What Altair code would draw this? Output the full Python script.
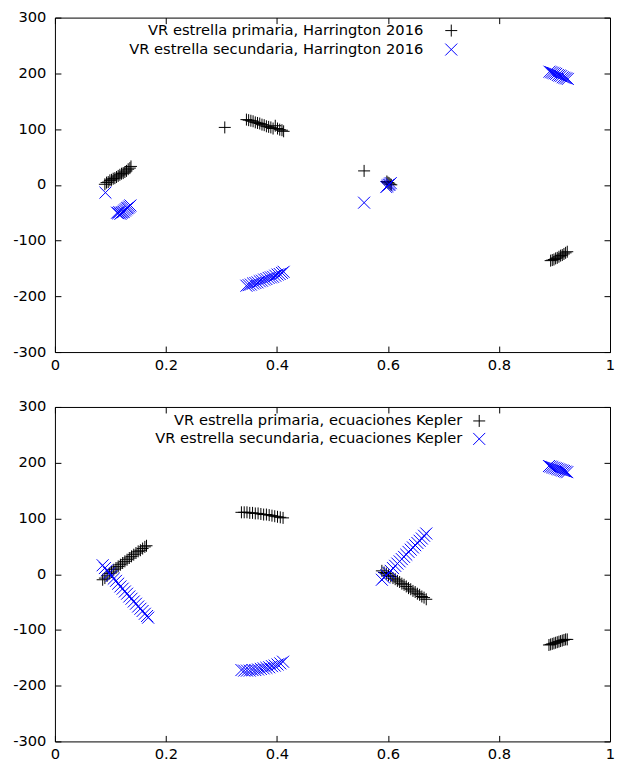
import altair as alt
import pandas as pd

# ---------------- data ----------------
# Top panel: Harrington 2016
top_prim_phase = [0.090, 0.093, 0.096, 0.099, 0.102, 0.105, 0.108, 0.111, 0.114, 0.117, 0.120, 0.123, 0.126, 0.129, 0.132, 0.135, 0.137,
                  0.306,
                  0.345, 0.349, 0.353, 0.357, 0.361, 0.365, 0.369, 0.373, 0.377, 0.381, 0.385, 0.389, 0.393, 0.397, 0.401, 0.405, 0.409, 0.412,
                  0.557,
                  0.598, 0.600, 0.602, 0.604, 0.606,
                  0.893, 0.896, 0.899, 0.902, 0.905, 0.908, 0.911, 0.914, 0.917, 0.920, 0.923]
top_prim_rv = [1, 4, 5, 8, 9, 11, 12, 14, 16, 18, 20, 21, 23, 25, 28, 30, 33,
               103,
               117, 116, 115, 114, 112, 111, 110, 108, 107, 105, 104, 103, 101, 106, 101, 99, 98, 96,
               25,
               6, 4, 3, 1, 0,
               -136, -135, -134, -132, -131, -129, -127, -126, -124, -122, -120]

top_sec_phase = [0.091,
                 0.112, 0.114, 0.116, 0.118, 0.120, 0.122, 0.124, 0.126, 0.128, 0.130, 0.132, 0.134, 0.136,
                 0.345, 0.349, 0.353, 0.357, 0.361, 0.365, 0.369, 0.373, 0.377, 0.381, 0.385, 0.389, 0.393, 0.397, 0.401, 0.405, 0.409, 0.412,
                 0.557,
                 0.597, 0.599, 0.601, 0.603, 0.605,
                 0.891, 0.894, 0.897, 0.900, 0.903, 0.906, 0.909, 0.912, 0.915, 0.918, 0.921, 0.924]
top_sec_rv = [-14,
              -50, -51, -49, -52, -50, -49, -48, -46, -44, -42, -41, -39, -37,
              -181, -180, -179, -177, -176, -175, -173, -172, -170, -169, -167, -166, -165, -163, -161, -160, -158, -156,
              -32,
              -4, -2, 0, 1, 3,
              203, 202, 201, 200, 199, 197, 196, 195, 193, 192, 191, 190]

# Bottom panel: Kepler equations
bot_prim_phase = [0.086, 0.090, 0.094, 0.098, 0.102, 0.106, 0.110, 0.114, 0.118, 0.122, 0.126, 0.130, 0.134, 0.138, 0.142, 0.146, 0.150, 0.154, 0.158, 0.162, 0.165,
                  0.336, 0.341, 0.346, 0.351, 0.356, 0.361, 0.366, 0.371, 0.376, 0.381, 0.386, 0.391, 0.396, 0.401, 0.406, 0.411,
                  0.589, 0.593, 0.597, 0.601, 0.605, 0.609, 0.613, 0.617, 0.621, 0.625, 0.629, 0.633, 0.637, 0.641, 0.645, 0.649, 0.653, 0.657, 0.661, 0.665, 0.669,
                  0.890, 0.893, 0.896, 0.899, 0.902, 0.905, 0.908, 0.911, 0.914, 0.917, 0.920, 0.923]
bot_prim_rv = [-10, -7, -3, 1, 4, 8, 11, 14, 17, 20, 23, 26, 29, 32, 35, 38, 41, 43, 46, 49, 51,
               111, 111, 111, 110, 110, 109, 109, 108, 107, 107, 106, 105, 104, 103, 102, 101,
               6, 3, 1, -2, -4, -7, -9, -12, -14, -17, -19, -22, -25, -27, -30, -32, -35, -37, -40, -42, -45,
               -127, -126, -125, -124, -123, -122, -121, -120, -119, -118, -117, -117]

bot_sec_phase = [0.086, 0.090, 0.094, 0.098, 0.102, 0.106, 0.110, 0.114, 0.118, 0.122, 0.126, 0.130, 0.134, 0.138, 0.142, 0.146, 0.150, 0.154, 0.158, 0.162, 0.166, 0.168,
                 0.336, 0.341, 0.346, 0.351, 0.356, 0.361, 0.366, 0.371, 0.376, 0.381, 0.386, 0.391, 0.396, 0.401, 0.406, 0.411,
                 0.589, 0.593, 0.597, 0.601, 0.605, 0.609, 0.613, 0.617, 0.621, 0.625, 0.629, 0.633, 0.637, 0.641, 0.645, 0.649, 0.653, 0.657, 0.661, 0.665, 0.669,
                 0.890, 0.893, 0.896, 0.899, 0.902, 0.905, 0.908, 0.911, 0.914, 0.917, 0.920, 0.923]
bot_sec_rv = [16, 11, 7, 2, -3, -8, -12, -17, -22, -26, -31, -35, -40, -44, -49, -53, -58, -62, -66, -71, -75, -78,
              -172, -173, -173, -173, -172, -172, -171, -170, -169, -168, -167, -165, -164, -162, -160, -157,
              -10, -6, -2, 2, 6, 11, 15, 19, 23, 27, 31, 35, 40, 44, 48, 52, 56, 60, 64, 69, 73,
              194, 193, 192, 191, 190, 189, 188, 187, 186, 185, 184, 183]

x_ticks = [0, 0.2, 0.4, 0.6, 0.8, 1]
y_ticks = [-300, -200, -100, 0, 100, 200, 300]

top_labels = ["VR estrella primaria, Harrington 2016", "VR estrella secundaria, Harrington 2016"]
bot_labels = ["VR estrella primaria, ecuaciones Kepler", "VR estrella secundaria, ecuaciones Kepler"]

# ---------------- style ----------------
PLUS = "M-1,0L1,0M0,-1L0,1"
CROSS = "M-1,-1L1,1M-1,1L1,-1"
BLUE = "#0000ff"
FONT = "DejaVu Sans"
FS = 14.7
W, H = 556, 335
TICK = 6
SYM = 144

xscale = alt.Scale(domain=[0, 1], nice=False, zero=False)
yscale = alt.Scale(domain=[-300, 300], nice=False, zero=False)


def lab_axis(orient, values, pad):
    return alt.Axis(orient=orient, values=values, labelExpr="'' + datum.value", ticks=False,
                    domain=False, grid=False, title=None, labelFont=FONT, labelFontSize=FS,
                    labelColor="black", labelPadding=pad, labelFlush=False, labelOverlap=False)


def tick_axis(orient, values):
    return alt.Axis(orient=orient, values=values, labels=False, domain=False, grid=False, title=None,
                    ticks=True, tickSize=TICK, offset=-TICK, tickColor="black", tickWidth=1)


def panel(pp, pr, sp, sr, labels, text_x, sym_x, row_y):
    dp = pd.DataFrame({"phase": pp, "rv": pr})
    ds = pd.DataFrame({"phase": sp, "rv": sr})
    prim = alt.Chart(dp).mark_point(shape=PLUS, size=SYM, filled=False, color="black",
                                    strokeWidth=1, opacity=1).encode(
        x=alt.X("phase:Q", scale=xscale, axis=lab_axis("bottom", x_ticks, 5)),
        y=alt.Y("rv:Q", scale=yscale, axis=lab_axis("left", y_ticks, 9)))
    sec = alt.Chart(ds).mark_point(shape=CROSS, size=SYM, filled=False, color=BLUE,
                                   strokeWidth=1, opacity=1).encode(
        x=alt.X("phase:Q", scale=xscale, axis=tick_axis("bottom", x_ticks)),
        y=alt.Y("rv:Q", scale=yscale, axis=tick_axis("left", y_ticks)))
    ghost = alt.Chart(dp).mark_point(opacity=0).encode(
        x=alt.X("phase:Q", scale=xscale, axis=tick_axis("top", x_ticks)),
        y=alt.Y("rv:Q", scale=yscale, axis=tick_axis("right", y_ticks)))
    one = pd.DataFrame({"k": [0]})
    leg = []
    for lab, shape, col, yy in [(labels[0], PLUS, "black", row_y[0]), (labels[1], CROSS, BLUE, row_y[1])]:
        leg.append(alt.Chart(one).mark_text(text=lab, align="right", baseline="middle", font=FONT,
                                            fontSize=FS, color="black").encode(
            x=alt.value(text_x), y=alt.value(yy)))
        leg.append(alt.Chart(one).mark_point(shape=shape, size=SYM, filled=False, color=col,
                                             strokeWidth=1, opacity=1).encode(
            x=alt.value(sym_x), y=alt.value(yy)))
    return alt.layer(prim, sec, ghost, *leg).resolve_axis(
        x="independent", y="independent").properties(width=W, height=H)


top = panel(top_prim_phase, top_prim_rv, top_sec_phase, top_sec_rv, top_labels, 369, 397, [13, 32])
bot = panel(bot_prim_phase, bot_prim_rv, bot_sec_phase, bot_sec_rv, bot_labels, 408, 425, [14, 32])

chart = alt.vconcat(top, bot, spacing=25).properties(
    padding={"left": 4, "top": 0, "right": 0, "bottom": 0},
    background="white",
).configure_view(stroke="black", strokeWidth=1)

chart.save("out.html", embed_options={"renderer": "svg", "actions": False})
